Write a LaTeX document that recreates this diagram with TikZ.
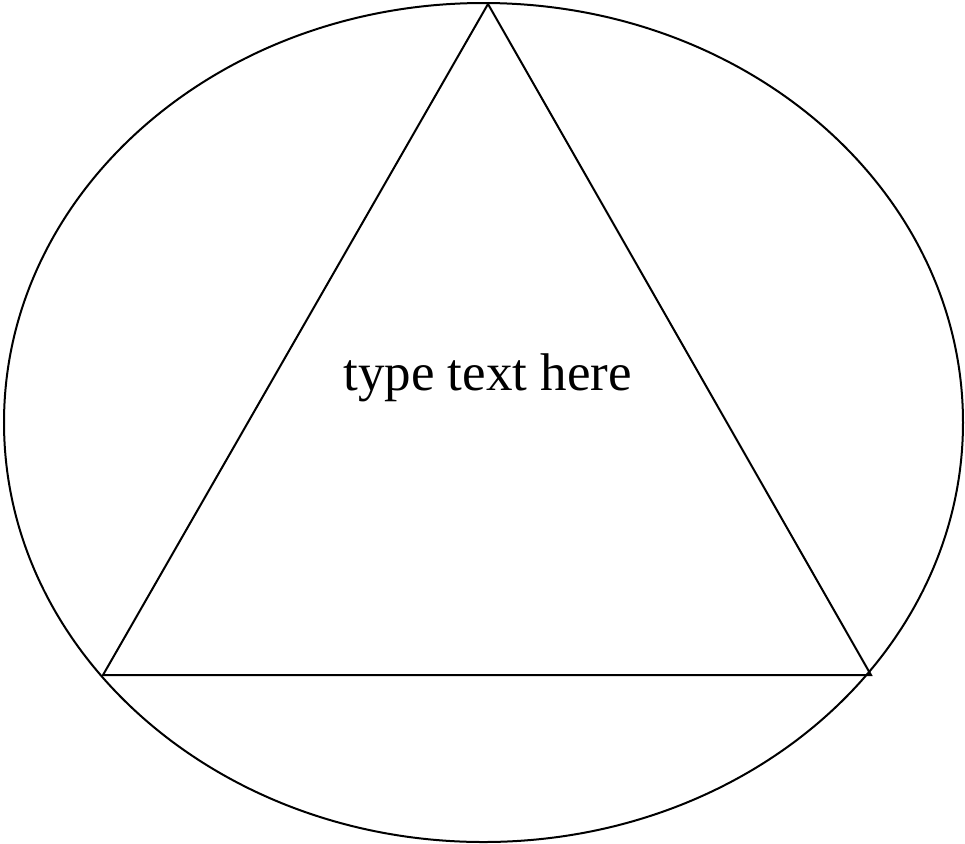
\documentclass[tikz,border=0pt]{standalone}
\usepackage{fontspec}
\setmainfont{Liberation Serif}
\begin{document}
\begin{tikzpicture}[
        x=0.5pt, y=-0.5pt,
        outline/.style={draw, line width=1pt},
        caption/.style={font=\fontsize{26.5}{32}\selectfont, inner sep=0pt, anchor=base}
    ]
        \useasboundingbox (0,0) rectangle (965,843);

        % Ellipse
        \draw[outline] (483.5,422.5) ellipse [x radius=479.5, y radius=419.5];

        % Triangle corners
        \coordinate (apex) at (488,4);
        \coordinate (left) at (103,675);
        \coordinate (right) at (871,675);
        \draw[outline, line join=miter] (apex) -- (right) -- (left) -- cycle;

        % Text
        \node[caption] (label) at (487.5,390) {type text here};
    \end{tikzpicture}
\end{document}
